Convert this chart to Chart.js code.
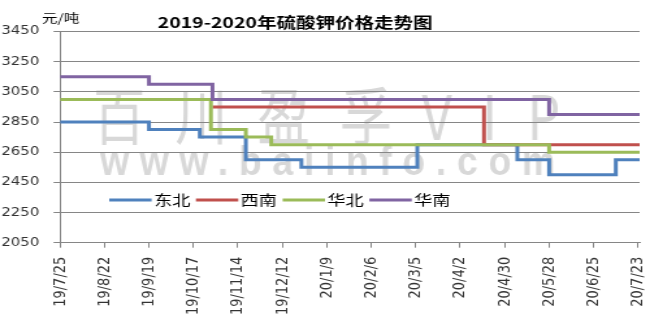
<!DOCTYPE html>
<html>
<head>
<meta charset="utf-8">
<script src="https://cdn.jsdelivr.net/npm/chart.js@4.4.0/dist/chart.umd.min.js"></script>
<style>
  html, body { margin: 0; padding: 0; background: #fff; overflow: hidden; }
  #wrap { width: 650px; height: 323px; overflow: hidden; }
  /* the source picture is a chart widened sideways: draw it narrow, then stretch */
  #chart { transform: scaleX(1.3); transform-origin: 0 0; }
</style>
</head>
<body>
<div id="wrap"><canvas id="chart" width="500" height="323"></canvas></div>
<script>
// Data
const startDate = "2019-07-25";
const endDay = 365;
const tickLabels = ["19/7/25", "19/8/22", "19/9/19", "19/10/17", "19/11/14", "19/12/12", "20/1/9",
  "20/2/6", "20/3/5", "20/4/2", "20/4/30", "20/5/28", "20/6/25", "20/7/23"];

// each series: the dates the price changed, and the price from that date on
const dongbeiDates = ["2019-07-25", "2019-09-19", "2019-10-21", "2019-11-19", "2019-12-24",
  "2020-03-06", "2020-05-08", "2020-05-28", "2020-07-09", "2020-07-24"];
const dongbeiPrices = [2850, 2800, 2750, 2600, 2550, 2700, 2600, 2500, 2600, 2600];

const xinanDates = ["2019-10-29", "2020-04-17", "2020-07-24"];
const xinanPrices = [2950, 2700, 2700];

const huabeiDates = ["2019-07-25", "2019-10-28", "2019-11-19", "2019-12-05", "2020-05-28", "2020-07-24"];
const huabeiPrices = [3000, 2800, 2750, 2700, 2650, 2650];

const huananDates = ["2019-07-25", "2019-09-19", "2019-10-29", "2020-05-28", "2020-07-24"];
const huananPrices = [3150, 3100, 3000, 2900, 2900];

const seriesNames = ["东北", "西南", "华北", "华南"];
const seriesColors = ["#4F81BD", "#C0504D", "#9BBB59", "#8064A2"];

const gridColor = "#868686";
const cjkFont = "'Noto Sans CJK SC', sans-serif";

function dayOf(dateStr) {
  return (Date.parse(dateStr) - Date.parse(startDate)) / 86400000;
}

function toPoints(dates, prices) {
  return dates.map((d, i) => ({ x: dayOf(d), y: prices[i] }));
}

const seriesData = [
  toPoints(dongbeiDates, dongbeiPrices),
  toPoints(xinanDates, xinanPrices),
  toPoints(huabeiDates, huabeiPrices),
  toPoints(huananDates, huananPrices),
];

// Watermark, legend and titles
const decorPlugin = {
  id: "decor",
  beforeDraw(chart) {
    const ctx = chart.ctx;
    ctx.save();
    ctx.fillStyle = "#d8d8d8";
    drawSpread(ctx, "百川盈孚VIP", "normal 62px " + cjkFont, 0.65, 71.5, 431, 116, "middle");
    drawSpread(ctx, "www.baiinfo.com", "bold 41px 'Liberation Sans', sans-serif", 0.7, 77, 427, 175, "alphabetic");
    ctx.restore();
  },
  afterDatasetsDraw(chart) {
    const ctx = chart.ctx;
    let x = 84;
    const y = 200;
    ctx.save();
    ctx.font = "14px " + cjkFont;
    ctx.textBaseline = "middle";
    ctx.textAlign = "left";
    chart.data.datasets.forEach((ds) => {
      ctx.strokeStyle = ds.borderColor;
      ctx.lineWidth = 3;
      ctx.beginPath();
      ctx.moveTo(x, y);
      ctx.lineTo(x + 32.6, y);
      ctx.stroke();
      ctx.fillStyle = "#000";
      ctx.fillText(ds.label, x + 34.4, y);
      x += 34.4 + ctx.measureText(ds.label).width + 4.3;
    });
    ctx.restore();
  },
  afterDraw(chart) {
    const ctx = chart.ctx;
    ctx.save();
    ctx.fillStyle = "#000";
    ctx.textBaseline = "middle";
    ctx.textAlign = "center";
    ctx.font = "bold 15px " + cjkFont;
    ctx.fillText("2019-2020年硫酸钾价格走势图", 227, 22.5);
    ctx.textAlign = "left";
    ctx.font = "12px " + cjkFont;
    ctx.fillText("元/吨", 32.3, 18.5);
    ctx.restore();
  },
};

// draw text squeezed by sx and spread so it runs from x0 to x1
function drawSpread(ctx, text, font, sx, x0, x1, y, baseline) {
  ctx.save();
  ctx.font = font;
  ctx.textBaseline = baseline;
  ctx.textAlign = "left";
  ctx.letterSpacing = "0px";
  const natural = ctx.measureText(text).width;
  const spacing = ((x1 - x0) / sx - natural) / (text.length - 1);
  ctx.letterSpacing = spacing + "px";
  ctx.translate(x0, y);
  ctx.scale(sx, 1);
  ctx.fillText(text, 0, 0);
  ctx.restore();
}

const ctx = document.getElementById("chart").getContext("2d");
new Chart(ctx, {
  type: "line",
  data: {
    datasets: seriesNames.map((name, i) => ({
      label: name,
      data: seriesData[i],
      borderColor: seriesColors[i],
      backgroundColor: seriesColors[i],
      borderWidth: 3,
      pointRadius: 0,
      stepped: "before",
      fill: false,
      order: seriesNames.length - 1 - i, // later series on top, like the original
    })),
  },
  options: {
    responsive: false,
    animation: false,
    events: [],
    layout: { padding: { top: 31.5, right: 8, left: 0, bottom: 0 } },
    plugins: {
      legend: { display: false },
      title: { display: false },
      tooltip: { enabled: false },
    },
    scales: {
      x: {
        type: "linear",
        min: 0,
        max: endDay,
        afterBuildTicks: (scale) => {
          scale.ticks = tickLabels.map((t, i) => ({ value: i * 28 }));
        },
        afterFit: (scale) => {
          scale.height = 80.3;
          // rotated labels are thin, don't let them push the plot inwards
          scale.paddingLeft = 0;
          scale.paddingRight = 0;
        },
        ticks: {
          autoSkip: false,
          minRotation: 90,
          maxRotation: 90,
          padding: 9,
          color: "#333",
          font: { family: "'DejaVu Sans'", size: 13 },
          callback: (v, i) => tickLabels[i],
        },
        grid: { drawOnChartArea: false, tickLength: 5, color: gridColor },
        border: { color: gridColor },
      },
      y: {
        min: 2050,
        max: 3450,
        afterFit: (scale) => {
          scale.width = 46.2;
        },
        ticks: {
          stepSize: 200,
          padding: 11,
          color: "#333",
          font: { family: "'DejaVu Sans'", size: 11.5 },
          callback: (v) => String(v),
        },
        grid: { color: gridColor, tickLength: 5 },
        border: { color: gridColor },
      },
    },
  },
  plugins: [decorPlugin],
});
</script>
</body>
</html>
